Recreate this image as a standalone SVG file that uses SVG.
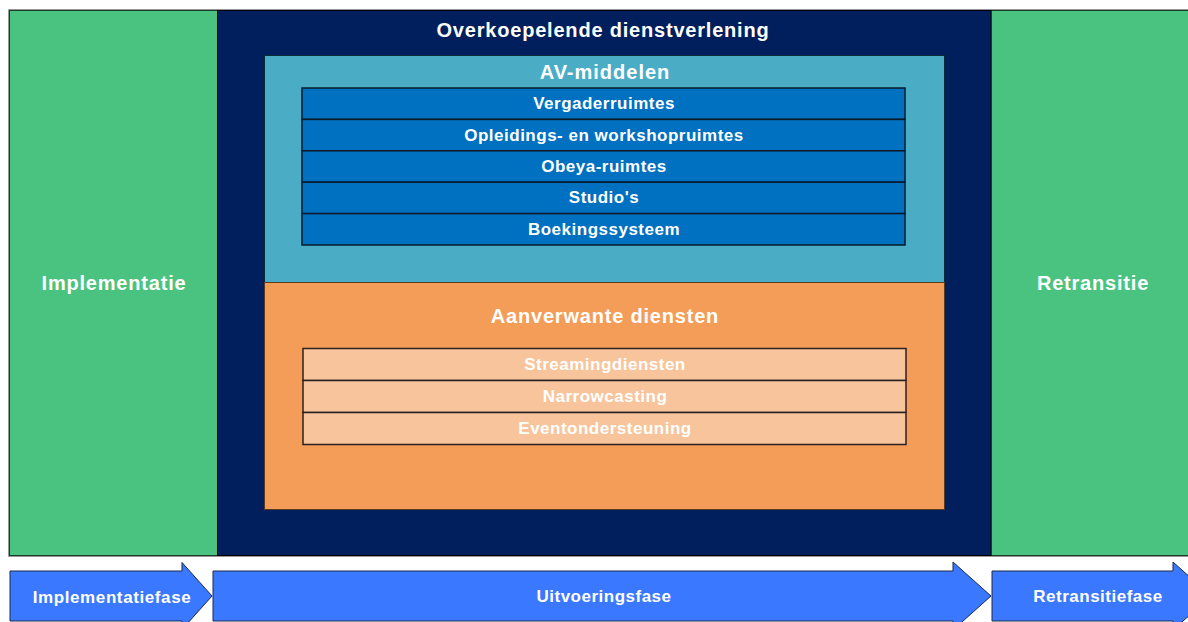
<svg xmlns="http://www.w3.org/2000/svg" width="1188" height="622" viewBox="0 0 1188 622">
<style>
text{font-family:"Liberation Sans",Arial,sans-serif;font-weight:bold;fill:#fff;text-anchor:middle;dominant-baseline:central}
.green{fill:#4BC380;stroke:#1a3a2a;stroke-width:1}
.row{fill:#0070C0;stroke:#0a1a2a;stroke-width:1.5}
.prow{fill:#F8C49B;stroke:#2a2020;stroke-width:1.5}
.arrow{fill:#3A78FF;stroke:#1a2a4a;stroke-width:1}
.t16{font-size:17px;letter-spacing:0.5px}
.t19{font-size:20px;letter-spacing:0.8px}
</style>
<rect x="0" y="0" width="1188" height="622" fill="#fff"/>
<rect x="9" y="10" width="1180" height="546" fill="none" stroke="#777" stroke-width="1.5"/>
<g id="implementatie">
<rect class="green" x="9.5" y="10.5" width="208" height="545"/>
<text class="t19" x="114" y="283">Implementatie</text>
</g>
<g id="retransitie">
<rect class="green" x="991" y="10.5" width="198" height="545"/>
<text class="t19" x="1093" y="283">Retransitie</text>
</g>
<g id="overkoepelend">
<rect x="217.5" y="10.5" width="773.5" height="545" fill="#001F5C" stroke="#000" stroke-width="1"/>
<text class="t19" x="603" y="30">Overkoepelende dienstverlening</text>
</g>
<g id="av-middelen">
<rect x="264.5" y="55.5" width="680" height="227" fill="#4BACC6" stroke="#0a2a3a" stroke-width="1"/>
<text x="605" y="72" style="font-size:20px;letter-spacing:1px">AV-middelen</text>
</g>
<g id="vergaderruimtes"><rect class="row" x="302" y="88" width="603" height="31.4"/><text class="t16" x="604" y="103.7">Vergaderruimtes</text></g>
<g id="opleidingsruimtes"><rect class="row" x="302" y="119.4" width="603" height="31.4"/><text class="t16" x="604" y="135.1">Opleidings- en workshopruimtes</text></g>
<g id="obeya"><rect class="row" x="302" y="150.8" width="603" height="31.4"/><text class="t16" x="604" y="166.5">Obeya-ruimtes</text></g>
<g id="studios"><rect class="row" x="302" y="182.2" width="603" height="31.4"/><text class="t16" x="604" y="197.9">Studio's</text></g>
<g id="boekingssysteem"><rect class="row" x="302" y="213.6" width="603" height="31.4"/><text class="t16" x="604" y="229.3">Boekingssysteem</text></g>
<g id="aanverwante-diensten">
<rect x="264.5" y="282.5" width="680" height="227" fill="#F49D58" stroke="#5a3a20" stroke-width="1"/>
<text class="t19" x="605" y="316">Aanverwante diensten</text>
</g>
<g id="streamingdiensten"><rect class="prow" x="303" y="348.5" width="603" height="32"/><text class="t16" x="605" y="364.5">Streamingdiensten</text></g>
<g id="narrowcasting"><rect class="prow" x="303" y="380.5" width="603" height="32"/><text class="t16" x="605" y="396.5">Narrowcasting</text></g>
<g id="eventondersteuning"><rect class="prow" x="303" y="412.5" width="603" height="32"/><text class="t16" x="605" y="428.5">Eventondersteuning</text></g>
<g id="connectors">
<g id="implementatiefase">
<path class="arrow" d="M10,571 H182 V562.5 L212,596 L182,629.5 V621 H10 Z"/>
<text class="t16" x="112" y="597" style="letter-spacing:0.6px">Implementatiefase</text>
</g>
<g id="uitvoeringsfase">
<path class="arrow" d="M213,571 H953 V562 L991,596 L953,630 V621 H213 Z"/>
<text class="t16" x="604" y="596">Uitvoeringsfase</text>
</g>
<g id="retransitiefase">
<path class="arrow" d="M992,571 H1173 V562 L1211,596 L1173,630 V621 H992 Z"/>
<text class="t16" x="1098" y="596">Retransitiefase</text>
</g>
</g>
</svg>
